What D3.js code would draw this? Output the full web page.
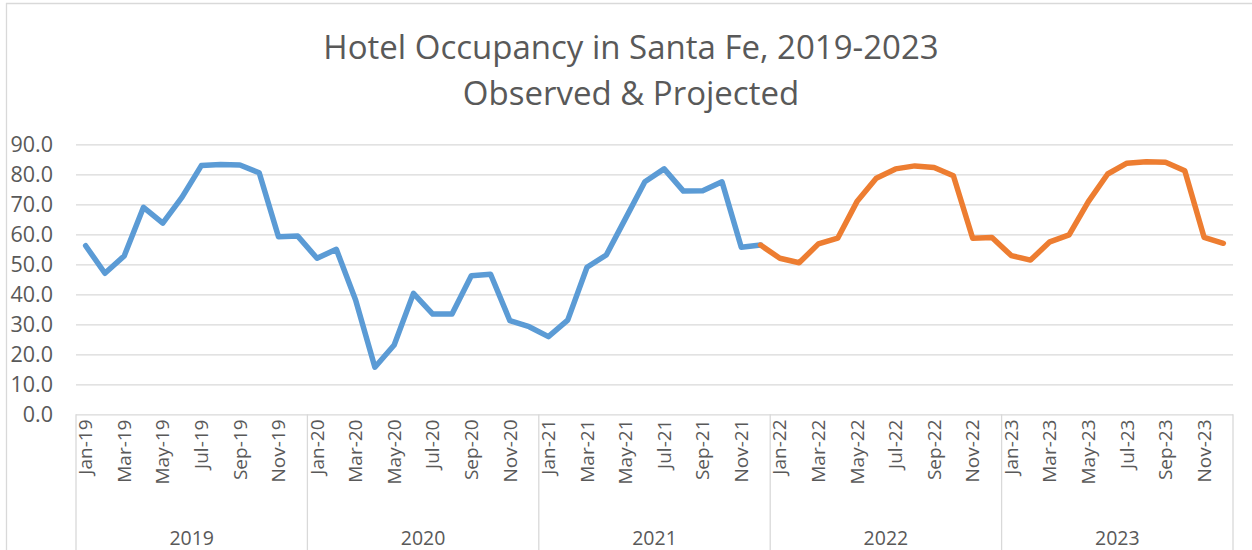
<!DOCTYPE html>
<html>
<head>
<meta charset="utf-8">
<title>Hotel Occupancy in Santa Fe</title>
<script src="https://d3js.org/d3.v7.min.js"></script>
<style>
  body { margin: 0; background: #fff; }
  text { font-family: "Open Sans", sans-serif; fill: #595959; }
  .grid line { stroke: #d9d9d9; stroke-width: 1.3; }
  .grid .domain { display: none; }
</style>
</head>
<body>
<svg width="1252" height="550"></svg>
<script>
var years = ["2019", "2020", "2021", "2022", "2023"];
var monthNames = ["Jan", "Feb", "Mar", "Apr", "May", "Jun", "Jul", "Aug", "Sep", "Oct", "Nov", "Dec"];
var yTicks = [0, 10, 20, 30, 40, 50, 60, 70, 80, 90];

// observed, Jan-19 .. Dec-21
var observed = [
  56.2, 47.0, 52.8, 69.0, 63.7, 72.4, 82.9, 83.3, 83.1, 80.5, 59.2, 59.4,
  52.0, 55.0, 38.1, 15.7, 23.1, 40.3, 33.4, 33.4, 46.2, 46.7, 31.2, 29.2,
  25.9, 31.4, 49.0, 53.1, 65.3, 77.5, 81.8, 74.4, 74.5, 77.5, 55.7, 56.4
];
// projected, Dec-21 .. Dec-23
var projected = [
  56.4,
  52.0, 50.5, 56.8, 58.7, 70.9, 78.7, 81.8, 82.8, 82.3, 79.5, 58.7, 58.9,
  52.9, 51.4, 57.5, 59.8, 70.9, 80.1, 83.7, 84.2, 84.0, 81.2, 59.0, 57.0
];

var months = [];
years.forEach(function(y) {
  monthNames.forEach(function(m) { months.push(m + "-" + y.slice(2)); });
});

var svg = d3.select("svg");
var plotLeft = 76, plotRight = 1233, plotTop = 144.3, plotBottom = 414.3;

var x = d3.scaleBand().domain(months).range([plotLeft, plotRight]);
var y = d3.scaleLinear().domain([0, 90]).range([plotBottom, plotTop]);

// chart border
svg.append("line").attr("x1", 6.5).attr("x2", 6.5).attr("y1", 3).attr("y2", 550)
  .attr("stroke", "#d9d9d9").attr("stroke-width", 1.3);
svg.append("line").attr("x1", 6).attr("x2", 1252).attr("y1", 3.5).attr("y2", 3.5)
  .attr("stroke", "#d9d9d9").attr("stroke-width", 1.3);

// title
var title = svg.append("text").attr("text-anchor", "middle").style("font-size", "33px");
title.append("tspan").attr("x", 631).attr("y", 59).text("Hotel Occupancy in Santa Fe, 2019-2023");
title.append("tspan").attr("x", 631).attr("y", 105).text("Observed & Projected");

// gridlines + y labels
var yAxis = svg.append("g").attr("class", "grid")
  .attr("transform", "translate(" + plotLeft + ",0)")
  .call(d3.axisLeft(y).tickValues(yTicks).tickSize(-(plotRight - plotLeft)).tickPadding(23)
    .tickFormat(d3.format(".1f")));
yAxis.selectAll("text").style("font-size", "21.5px").attr("fill", "#595959");

// year separators
var yearEdges = years.map(function(yr) { return x("Jan-" + yr.slice(2)); }).concat([plotRight]);
svg.selectAll(".sep").data(yearEdges).enter().append("line")
  .attr("x1", function(d) { return d; }).attr("x2", function(d) { return d; })
  .attr("y1", plotBottom).attr("y2", 550)
  .attr("stroke", "#d9d9d9").attr("stroke-width", 1.3);

// month labels (every other month)
svg.selectAll(".mlab").data(months.filter(function(d, i) { return i % 2 === 0; }))
  .enter().append("text")
  .attr("transform", function(d) {
    return "translate(" + (x(d) + x.bandwidth() / 2) + ",419.5) rotate(-90)";
  })
  .attr("text-anchor", "end").attr("dy", "0.35em")
  .style("font-size", "19px")
  .text(function(d) { return d; });

// year labels
svg.selectAll(".ylab").data(years).enter().append("text")
  .attr("x", function(d, i) { return (yearEdges[i] + yearEdges[i + 1]) / 2; })
  .attr("y", 545).attr("text-anchor", "middle")
  .style("font-size", "19.5px")
  .text(function(d) { return d; });

// lines
var line = d3.line()
  .x(function(d) { return x(d.m) + x.bandwidth() / 2; })
  .y(function(d) { return y(d.v); });

var obsData = observed.map(function(v, i) { return { m: months[i], v: v }; });
var projData = projected.map(function(v, i) { return { m: months[35 + i], v: v }; });

svg.append("path").datum(obsData).attr("d", line)
  .attr("fill", "none").attr("stroke", "#5b9bd5").attr("stroke-width", 5.5)
  .attr("stroke-linejoin", "round").attr("stroke-linecap", "round");
svg.append("path").datum(projData).attr("d", line)
  .attr("fill", "none").attr("stroke", "#ed7d31").attr("stroke-width", 5.5)
  .attr("stroke-linejoin", "round").attr("stroke-linecap", "round");
</script>
</body>
</html>
